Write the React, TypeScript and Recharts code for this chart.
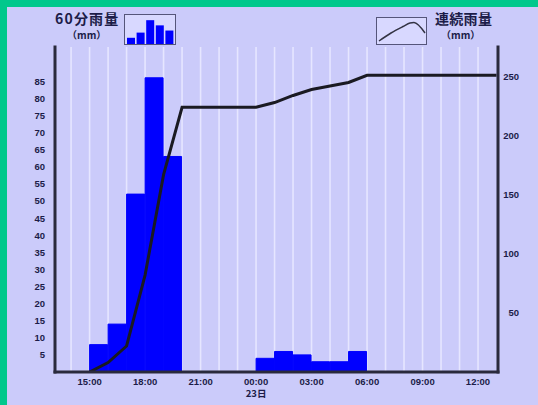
import React from 'react';
import { ComposedChart, Bar, Line, XAxis, YAxis, CartesianGrid, BarChart, LineChart } from 'recharts';

// hourly 60-min rainfall (bar spans hour h to h+1)
const rainHours = [15, 16, 17, 18, 19, 20, 21, 22, 23, 24, 25, 26, 27, 28, 29, 30, 31, 32, 33, 34, 35, 36];
const rainValues = [8, 14, 52, 86, 63, 0, 0, 0, 0, 4, 6, 5, 3, 3, 6, 0, 0, 0, 0, 0, 0, 0];

// cumulative rainfall at hour marks
const cumHours = [15, 16, 17, 18, 19, 20, 21, 22, 23, 24, 25, 26, 27, 28, 29, 30, 31, 32, 33, 34, 35, 36, 37];
const cumValues = [0, 8, 22, 82, 167, 224, 224, 224, 224, 224, 228, 234, 239, 242, 245, 251, 251, 251, 251, 251, 251, 251, 251];

const gridHours = [14, 15, 16, 17, 18, 19, 20, 21, 22, 23, 24, 25, 26, 27, 28, 29, 30, 31, 32, 33, 34, 35, 36];

const xTickValues = [15, 18, 21, 24, 27, 30, 33, 36];
const xTickLabels = ['15:00', '18:00', '21:00', '00:00', '03:00', '06:00', '09:00', '12:00'];
const xDayLabels = ['', '', '', '23日', '', '', '', ''];

const leftTicks = [5, 10, 15, 20, 25, 30, 35, 40, 45, 50, 55, 60, 65, 70, 75, 80, 85];
const rightTicks = [50, 100, 150, 200, 250];

// legend icons
const legendBarKeys = ['a', 'b', 'c', 'd', 'e'];
const legendBarValues = [6, 11, 23, 18, 13];
const legendCurveX = [2, 14, 26, 33, 37, 48];
const legendCurveY = [3, 11, 17.5, 21, 21.5, 11];

const tableData = cumHours.map((t) => {
  const i = rainHours.indexOf(t);
  return { t, rain: i >= 0 ? rainValues[i] : null, cum: cumValues[cumHours.indexOf(t)] };
});
const legendBarData = legendBarKeys.map((k, i) => ({ k, v: legendBarValues[i] }));
const legendCurveData = legendCurveX.map((x, i) => ({ x, y: legendCurveY[i] }));

const TEXT = '#1c1c48';
const FONT = '"Liberation Sans", "Noto Sans CJK JP", sans-serif';
const CJK = '"Noto Sans CJK JP", sans-serif';

const XTick = (props: any) => {
  const { x, y, payload } = props;
  const i = xTickValues.indexOf(payload.value);
  return (
    <g>
      <text x={x} y={y + 13} textAnchor="middle" fontSize={9.5} fontWeight="bold" fill={TEXT} fontFamily={FONT}>
        {xTickLabels[i]}
      </text>
      {xDayLabels[i] ? (
        <text x={x} y={y + 25} textAnchor="middle" fontSize={9.5} fontWeight="bold" fill={TEXT} fontFamily={CJK}>
          {xDayLabels[i]}
        </text>
      ) : null}
    </g>
  );
};

const RightTick = (props: any) => {
  const { x, y, payload } = props;
  return (
    <text x={x + 17} y={y + 3.5} textAnchor="end" fontSize={9.5} fontWeight="bold" fill={TEXT} fontFamily={FONT}>
      {payload.value}
    </text>
  );
};

const LeftTick = (props: any) => {
  const { x, y, payload } = props;
  return (
    <text x={x} y={y + 3.5} textAnchor="end" fontSize={9.5} fontWeight="bold" fill={TEXT} fontFamily={FONT}>
      {payload.value}
    </text>
  );
};

const axisLineStyle = { stroke: '#2a2a3c', strokeWidth: 3, strokeLinecap: 'square' as const };

const labelStyle: React.CSSProperties = {
  position: 'absolute',
  whiteSpace: 'nowrap',
  lineHeight: 1,
  fontFamily: CJK,
  fontWeight: 'bold',
  color: TEXT,
};

export default function App() {
  return (
    <div style={{ position: 'fixed', left: 0, top: 0, width: 538, height: 405, background: '#00C88C', overflow: 'hidden' }}>
      <div style={{ position: 'absolute', left: 7, top: 7, width: 531, height: 398, background: '#CBCBFA' }} />
      <div style={{ position: 'absolute', left: 0, top: 0 }}>
        <ComposedChart
          width={538}
          height={405}
          data={tableData}
          margin={{ top: 47, right: 0, bottom: 3, left: 0 }}
          barCategoryGap={0}
          barGap={0}
        >
          <CartesianGrid
            xAxisId="time"
            yAxisId="rain"
            horizontal={false}
            verticalValues={gridHours}
            stroke="#E6E6FF"
            strokeWidth={1.6}
          />
          <XAxis
            xAxisId="bars"
            dataKey="t"
            type="number"
            orientation="top"
            height={0}
            domain={[12.63, 36.58]}
            allowDataOverflow
            hide
          />
          <XAxis
            xAxisId="time"
            dataKey="t"
            type="number"
            orientation="bottom"
            domain={[13.13, 37.08]}
            allowDataOverflow
            ticks={xTickValues}
            interval={0}
            height={30}
            axisLine={axisLineStyle}
            tickLine={false}
            tickSize={0}
            tickMargin={0}
            tick={<XTick />}
          />
          <YAxis
            yAxisId="rain"
            orientation="left"
            width={55}
            domain={[0, 95]}
            allowDataOverflow
            ticks={leftTicks}
            interval={0}
            axisLine={axisLineStyle}
            tickLine={false}
            tickSize={4}
            tickMargin={6}
            tick={<LeftTick />}
          />
          <YAxis
            yAxisId="cum"
            orientation="right"
            width={40}
            domain={[0, 275]}
            allowDataOverflow
            ticks={rightTicks}
            interval={0}
            axisLine={axisLineStyle}
            tickLine={false}
            tickSize={4}
            tickMargin={0}
            tick={<RightTick />}
          />
          <Bar
            xAxisId="bars"
            yAxisId="rain"
            dataKey="rain"
            fill="#0000FF"
            stroke="#0000FF"
            strokeWidth={1}
            isAnimationActive={false}
          />
          <Line
            xAxisId="time"
            yAxisId="cum"
            dataKey="cum"
            type="linear"
            stroke="#1a1a22"
            strokeWidth={3}
            dot={false}
            activeDot={false}
            isAnimationActive={false}
          />
        </ComposedChart>
      </div>

      {/* left legend */}
      <div style={{ ...labelStyle, left: 55, top: 11, fontSize: 14, letterSpacing: 1.2 }}>60分雨量</div>
      <div style={{ ...labelStyle, left: 67, top: 30, fontSize: 10 }}>（mm）</div>
      <div
        style={{
          position: 'absolute',
          left: 124,
          top: 14,
          width: 52,
          height: 31,
          border: '1px solid #55557a',
          boxSizing: 'border-box',
          background: '#D8D8FF',
        }}
      >
        <BarChart width={50} height={29} data={legendBarData} margin={{ top: 0, right: 1, bottom: 0, left: 1 }} barCategoryGap={1}>
          <XAxis dataKey="k" hide />
          <YAxis hide domain={[0, 28]} />
          <Bar dataKey="v" fill="#0000FF" isAnimationActive={false} />
        </BarChart>
      </div>

      {/* right legend */}
      <div
        style={{
          position: 'absolute',
          left: 376,
          top: 17,
          width: 51,
          height: 28,
          border: '1px solid #55557a',
          boxSizing: 'border-box',
          background: '#D8D8FF',
        }}
      >
        <LineChart width={49} height={26} data={legendCurveData} margin={{ top: 0, right: 0, bottom: 0, left: 0 }}>
          <XAxis dataKey="x" type="number" domain={[0, 49]} hide />
          <YAxis hide domain={[0, 26]} />
          <Line dataKey="y" type="monotone" stroke="#333344" strokeWidth={1.5} dot={false} isAnimationActive={false} />
        </LineChart>
      </div>
      <div style={{ ...labelStyle, left: 435, top: 11, fontSize: 14, letterSpacing: 0.3 }}>連続雨量</div>
      <div style={{ ...labelStyle, left: 441, top: 30, fontSize: 10 }}>（mm）</div>
    </div>
  );
}
